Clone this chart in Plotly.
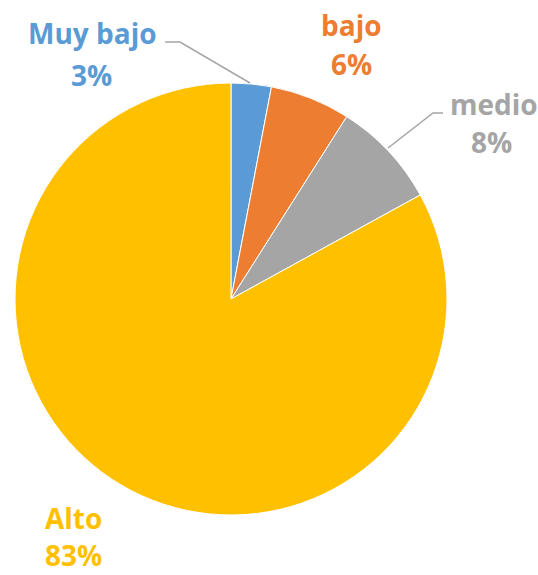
import plotly.graph_objects as go

labels = ["Muy bajo", "bajo", "medio", "Alto"]
values = [3, 6, 8, 83]
colors = ["#5B9BD5", "#ED7D31", "#A5A5A5", "#FFC000"]
pct_text = ["3%", "6%", "8%", "83%"]

W, H = 538, 575
cx, cy, r = 231, 299, 216

def px(x):
    return x / W

def py(y):
    return 1 - y / H

fig = go.Figure(go.Pie(
    labels=labels, values=values, sort=False, direction="clockwise", rotation=0,
    marker=dict(colors=colors, line=dict(color="white", width=1)),
    textinfo="none", hoverinfo="label+percent", showlegend=False,
    domain=dict(x=[px(cx - r), px(cx + r)], y=[py(cy + r), py(cy - r)]),
))

name_pos = [(92, 33), (351, 25), (494, 104), (73, 518)]
pct_pos = [(91, 75), (351, 64), (492, 142), (73, 555)]
for lab, pct, col, (nx, ny), (qx, qy) in zip(labels, pct_text, colors, name_pos, pct_pos):
    for txt, (x, y) in ((lab, (nx, ny)), (pct, (qx, qy))):
        fig.add_annotation(
            x=px(x), y=py(y), xref="paper", yref="paper", showarrow=False,
            xanchor="center", yanchor="middle",
            text=f"<b>{txt}</b>",
            font=dict(family="Open Sans", size=28, color=col),
        )

leaders = [
    [(165, 42), (180, 42), (250, 83)],
    [(443, 113), (433, 113), (388, 148)],
]
for pts in leaders:
    path = "M " + " L ".join(f"{px(x)},{py(y)}" for x, y in pts)
    fig.add_shape(type="path", path=path, xref="paper", yref="paper",
                  line=dict(color="#A5A5A5", width=1.5))

fig.update_layout(
    width=W, height=H, margin=dict(l=0, r=0, t=0, b=0),
    paper_bgcolor="white", plot_bgcolor="white",
)
fig.write_html("out.html", config={"displayModeBar": False},
               post_script="document.body.style.margin='0';document.body.style.overflow='hidden';")
